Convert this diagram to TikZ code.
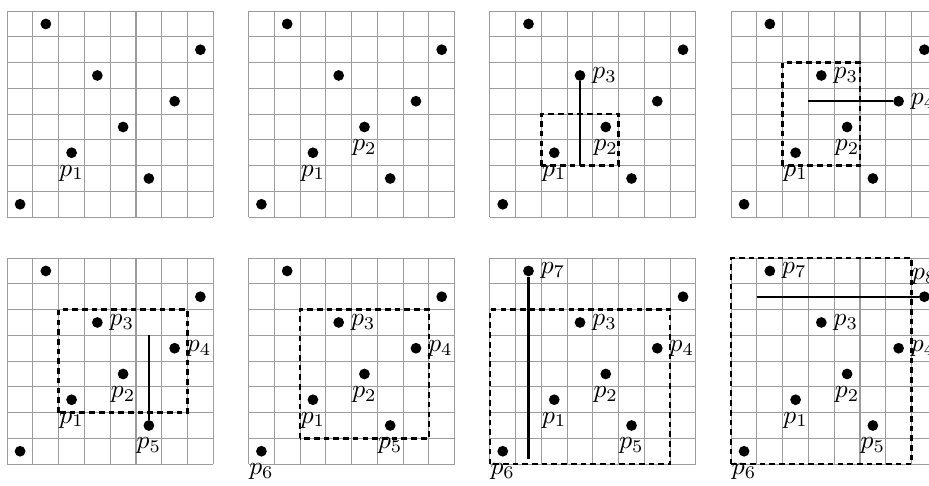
\documentclass[tikz,border=0pt]{standalone}
\usepackage{tikz}
\definecolor{gridgray}{HTML}{9C9C9C}
\tikzset{
  gridline/.style={draw=gridgray,line width=0.4pt},
  dot/.style={circle,fill=black,inner sep=0pt,minimum size=4.2pt},
  sweep/.style={line width=0.8pt,draw=black},
  hull/.style={line width=1pt,draw=black,dash pattern=on 2.2pt off 1.6pt},
  every label/.style={label distance=-1pt},
}
% one 8x8 panel with the eight points, labels p_1..p_#1
\newcommand{\pointpanel}[1]{%
  \foreach \k in {0,...,8}{
    \draw[gridline] (\k,0) -- (\k,8);
    \draw[gridline] (0,\k) -- (8,\k);
  }
  \foreach \i/\x/\y/\pos in {1/2/2/below,2/4/3/below,3/3/5/right,4/6/4/right,5/5/1/below,6/0/0/below,7/1/7/right,8/7/6/above}{
    \ifnum\i>#1
      \node[dot] (p\i) at (\x+0.5,\y+0.5) {};
    \else
      \node[dot,label={\pos:$p_{\i}$}] (p\i) at (\x+0.5,\y+0.5) {};
    \fi
  }%
}

\begin{document}
\begin{tikzpicture}[x=0.354cm,y=0.354cm]
  \useasboundingbox (-0.28,-0.84) rectangle (35.79,18.02);

  % top row
  \begin{scope}[shift={(0,9.59)},name prefix=a-]
    \pointpanel{1}
  \end{scope}
  \begin{scope}[shift={(9.37,9.59)},name prefix=b-]
    \pointpanel{2}
  \end{scope}
  \begin{scope}[shift={(18.74,9.59)},name prefix=c-]
    \pointpanel{3}
    \draw[hull] (2,2) rectangle (5,4);
    \coordinate (s3) at (3.5,2);
    \draw[sweep] (p3) -- (s3);
  \end{scope}
  \begin{scope}[shift={(28.11,9.59)},name prefix=d-]
    \pointpanel{4}
    \draw[hull] (2,2) rectangle (5,6);
    \coordinate (s4) at (3,4.5);
    \draw[sweep] (p4) -- (s4);
  \end{scope}

  % bottom row
  \begin{scope}[name prefix=e-]
    \pointpanel{5}
    \draw[hull] (2,2) rectangle (7,6);
    \coordinate (s5) at (5.5,5);
    \draw[sweep] (p5) -- (s5);
  \end{scope}
  \begin{scope}[shift={(9.37,0)},name prefix=f-]
    \pointpanel{6}
    \draw[hull] (2,1) rectangle (7,6);
  \end{scope}
  \begin{scope}[shift={(18.74,0)},name prefix=g-]
    \pointpanel{7}
    \draw[hull] (0,0) rectangle (7,6);
    \coordinate (s7) at (1.5,0.2);
    \draw[sweep] (p7) -- (s7);
  \end{scope}
  \begin{scope}[shift={(28.11,0)},name prefix=h-]
    \pointpanel{8}
    \draw[hull] (0,0) rectangle (7,8);
    \coordinate (s8) at (1,6.5);
    \draw[sweep] (p8) -- (s8);
  \end{scope}
\end{tikzpicture}
\end{document}
